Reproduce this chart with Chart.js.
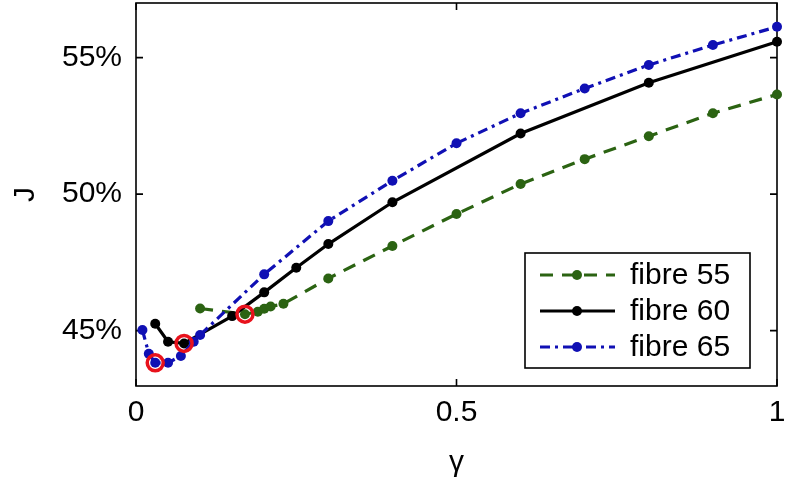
<!DOCTYPE html>
<html>
<head>
<meta charset="utf-8">
<script src="https://cdn.jsdelivr.net/npm/chart.js@4/dist/chart.umd.min.js"></script>
<style>
  html, body { margin: 0; padding: 0; background: #fff; }
  #chart { display: block; }
</style>
</head>
<body>
<canvas id="chart" width="790" height="481"></canvas>
<script>
// values
const gamma55 = [0.1, 0.17, 0.19, 0.2, 0.21, 0.23, 0.3, 0.4, 0.5, 0.6, 0.7, 0.8, 0.9, 1.0];
const j55 = [45.81, 45.60, 45.69, 45.80, 45.88, 45.98, 46.91, 48.10, 49.27, 50.37, 51.28, 52.12, 52.96, 53.65];

const gamma60 = [0.03, 0.05, 0.075, 0.15, 0.2, 0.25, 0.3, 0.4, 0.6, 0.8, 1.0];
const j60 = [45.25, 44.59, 44.53, 45.53, 46.40, 47.30, 48.17, 49.70, 52.22, 54.08, 55.58];

const gamma65 = [0.01, 0.02, 0.03, 0.05, 0.07, 0.09, 0.1, 0.2, 0.3, 0.4, 0.5, 0.6, 0.7, 0.8, 0.9, 1.0];
const j65 = [45.02, 44.15, 43.82, 43.82, 44.07, 44.59, 44.84, 47.06, 49.01, 50.49, 51.86, 52.96, 53.87, 54.73, 55.46, 56.13];

// optimum of each fibre (red rings)
const gammaBest = [0.03, 0.075, 0.17];
const jBest = [43.82, 44.53, 45.60];

const seriesLabels = ['fibre 55', 'fibre 60', 'fibre 65'];
const xTicks = [0, 0.5, 1];
const yTicks = [45, 50, 55];

const FONT = 'Liberation Sans, Arial, Helvetica, sans-serif';

function toPoints(xs, ys) {
  return xs.map((x, i) => ({ x: x, y: ys[i] }));
}

// box round the plot with inward ticks on all four sides
const framePlugin = {
  id: 'frame',
  beforeDatasetsDraw(chart) {
    const ctx = chart.ctx;
    const a = chart.chartArea;
    const xs = chart.scales.x, ys = chart.scales.y;
    const len = 7;
    ctx.save();
    ctx.strokeStyle = '#000';
    ctx.lineWidth = 1.6;
    ctx.strokeRect(a.left, a.top, a.right - a.left, a.bottom - a.top);
    ctx.beginPath();
    xTicks.forEach(v => {
      const px = xs.getPixelForValue(v);
      ctx.moveTo(px, a.bottom); ctx.lineTo(px, a.bottom - len);
      ctx.moveTo(px, a.top); ctx.lineTo(px, a.top + len);
    });
    yTicks.forEach(v => {
      const py = ys.getPixelForValue(v);
      ctx.moveTo(a.left, py); ctx.lineTo(a.left + len, py);
      ctx.moveTo(a.right, py); ctx.lineTo(a.right - len, py);
    });
    ctx.stroke();
    ctx.restore();
  }
};

// legend box inside the plot, bottom right
const legendPlugin = {
  id: 'boxLegend',
  afterDraw(chart) {
    const ctx = chart.ctx;
    const a = chart.chartArea;
    const w = 225, h = 115;
    const x0 = a.right - 27 - w, y0 = a.bottom - 18 - h;
    ctx.save();
    ctx.fillStyle = '#fff';
    ctx.fillRect(x0, y0, w, h);
    ctx.strokeStyle = '#000';
    ctx.lineWidth = 1.6;
    ctx.strokeRect(x0, y0, w, h);

    const items = chart.data.datasets.filter(d => !d.noLegend);
    items.forEach((ds, i) => {
      const cy = y0 + 22 + i * 36;
      ctx.strokeStyle = ds.borderColor;
      ctx.lineWidth = ds.borderWidth;
      ctx.setLineDash(ds.borderDash || []);
      ctx.beginPath();
      ctx.moveTo(x0 + 15, cy);
      ctx.lineTo(x0 + 90, cy);
      ctx.stroke();
      ctx.setLineDash([]);
      ctx.fillStyle = ds.pointBackgroundColor;
      ctx.beginPath();
      ctx.arc(x0 + 52, cy, ds.pointRadius, 0, Math.PI * 2);
      ctx.fill();
      ctx.fillStyle = '#000';
      ctx.font = '30px ' + FONT;
      ctx.textBaseline = 'middle';
      ctx.textAlign = 'left';
      ctx.fillText(ds.label, x0 + 105, cy + 1);
    });
    ctx.restore();
  }
};

const green = '#2b6312';
const blue = '#1010b4';
const black = '#000000';

new Chart(document.getElementById('chart'), {
  type: 'line',
  data: {
    datasets: [
      {
        label: seriesLabels[0], data: toPoints(gamma55, j55),
        borderColor: green, pointBackgroundColor: green, pointBorderColor: green,
        borderWidth: 3.2, borderDash: [13, 9], pointRadius: 5, pointBorderWidth: 0,
        tension: 0, clip: false, order: 3
      },
      {
        label: seriesLabels[1], data: toPoints(gamma60, j60),
        borderColor: black, pointBackgroundColor: black, pointBorderColor: black,
        borderWidth: 3.2, pointRadius: 5, pointBorderWidth: 0,
        tension: 0, clip: false, order: 2
      },
      {
        label: seriesLabels[2], data: toPoints(gamma65, j65),
        borderColor: blue, pointBackgroundColor: blue, pointBorderColor: blue,
        borderWidth: 3.2, borderDash: [10, 5, 3, 5], pointRadius: 5, pointBorderWidth: 0,
        tension: 0, clip: false, order: 1
      },
      {
        label: 'best', data: toPoints(gammaBest, jBest), noLegend: true,
        showLine: false, pointRadius: 8, pointBorderWidth: 3.5,
        pointBorderColor: '#e8121c', pointBackgroundColor: 'rgba(0,0,0,0)',
        clip: false, order: 0
      }
    ]
  },
  options: {
    responsive: false,
    animation: false,
    layout: { autoPadding: false, padding: { top: 3, right: 13, left: 0, bottom: 0 } },
    plugins: {
      legend: { display: false },
      tooltip: { enabled: false }
    },
    scales: {
      x: {
        type: 'linear', min: 0, max: 1,
        afterBuildTicks: s => { s.ticks = xTicks.map(v => ({ value: v })); },
        afterFit: s => { s.height = 95; s.paddingLeft = 0; s.paddingRight = 0; },
        grid: { display: false, drawTicks: false },
        border: { display: false },
        ticks: {
          color: '#000', padding: 9, maxRotation: 0,
          font: { family: FONT, size: 30 },
          callback: v => String(v)
        },
        title: {
          display: true, text: 'γ', color: '#000',
          font: { family: FONT, size: 30 }, padding: { top: 0, bottom: 0 }
        }
      },
      y: {
        type: 'linear', min: 42.97, max: 57.0,
        afterBuildTicks: s => { s.ticks = yTicks.map(v => ({ value: v })); },
        afterFit: s => { s.width = 136; s.paddingTop = 0; s.paddingBottom = 0; },
        grid: { display: false, drawTicks: false },
        border: { display: false },
        ticks: {
          color: '#000', padding: 14,
          font: { family: FONT, size: 30 },
          callback: v => v + '%'
        },
        title: {
          display: true, text: 'J', color: '#000',
          font: { family: FONT, size: 30 }, padding: { top: 8, bottom: 0 }
        }
      }
    }
  },
  plugins: [framePlugin, legendPlugin]
});
</script>
</body>
</html>
